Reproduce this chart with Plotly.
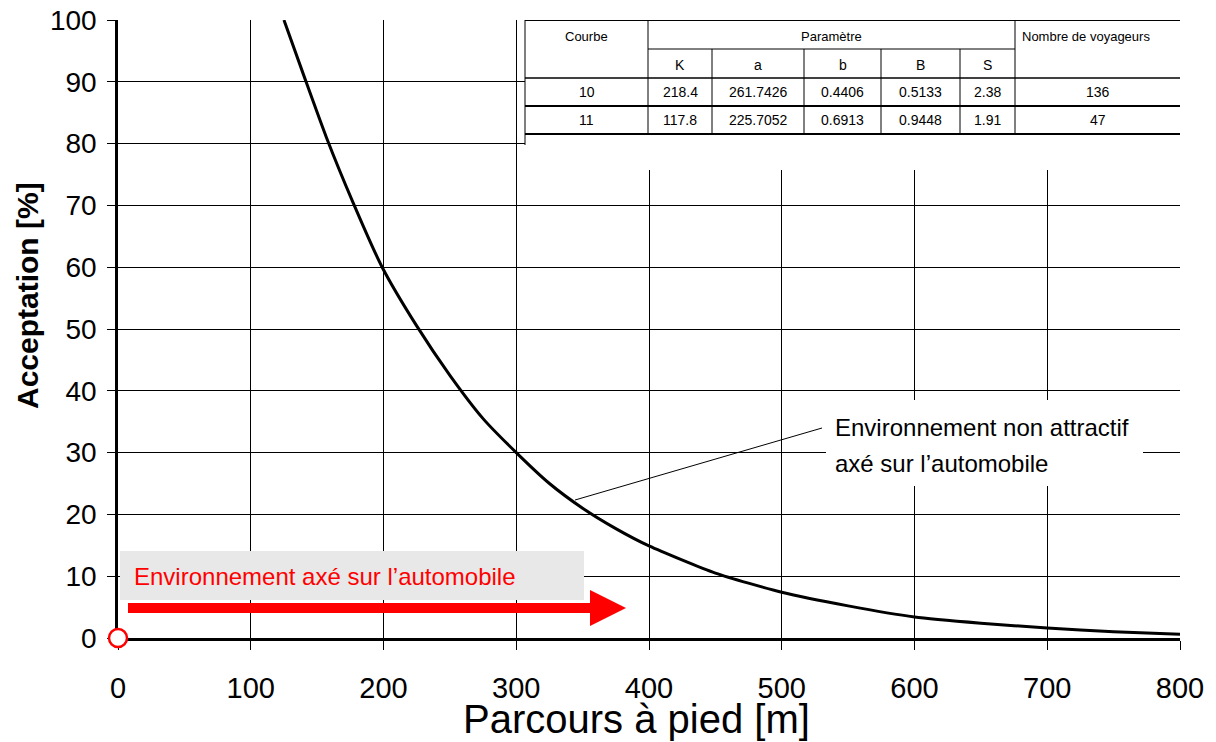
import plotly.graph_objects as go

# ---------------- data ----------------
distance_m = [125, 140, 157, 177, 199, 225, 250, 275, 300, 325, 350, 375, 400,
              450, 500, 550, 600, 650, 700, 750, 800]
acceptance_pct = [100, 91, 81, 70.5, 60, 50.5, 42.5, 35.5, 30, 25, 21, 17.7, 14.9,
                  10.5, 7.4, 5.2, 3.4, 2.4, 1.6, 1.0, 0.6]

x_ticks = [0, 100, 200, 300, 400, 500, 600, 700, 800]
y_ticks = [0, 10, 20, 30, 40, 50, 60, 70, 80, 90, 100]

table_header_top = ["Courbe", "Paramètre", "Nombre de voyageurs"]
table_param_names = ["K", "a", "b", "B", "S"]
table_rows = [
    ["10", "218.4", "261.7426", "0.4406", "0.5133", "2.38", "136"],
    ["11", "117.8", "225.7052", "0.6913", "0.9448", "1.91", "47"],
]

x_title = "Parcours à pied [m]"
y_title = "Acceptation [%]"
red_label = "Environnement axé sur l’automobile"
callout_lines = ["Environnement non attractif", "axé sur l’automobile"]

# ---------------- layout geometry (pixels) ----------------
L, R, T, B = 118, 1180, 20, 638
W, H = 1216, 742
XMAX, YMAX = 800, 100


def px2x(p):
    return (p - L) / (R - L) * XMAX


def px2y(p):
    return (B - p) / (B - T) * YMAX


FONT = "Liberation Sans, Arial, sans-serif"

fig = go.Figure()

fig.add_trace(go.Scatter(
    x=distance_m, y=acceptance_pct, mode="lines",
    line=dict(color="black", width=3, shape="spline", smoothing=0.6),
    hoverinfo="skip", showlegend=False,
))

# red open circle at the origin (white inside)
fig.add_trace(go.Scatter(
    x=[0], y=[0], mode="markers",
    marker=dict(symbol="circle", size=18, color="white",
                line=dict(width=2.5, color="#ff0000")),
    cliponaxis=False, showlegend=False, hoverinfo="skip",
))

shapes = []
annotations = []

# white area behind the table
shapes.append(dict(type="rect", xref="x", yref="y", layer="above",
                   x0=px2x(525), x1=px2x(1182), y0=px2y(170), y1=px2y(19),
                   fillcolor="white", line=dict(width=0)))

# table lines
cols = [525, 648, 712, 804, 881, 960, 1015, 1181]
rows = [20, 49, 78, 106, 134]


def hline(y, x0, x1, w=1.5):
    shapes.append(dict(type="line", xref="x", yref="y", layer="above",
                       x0=px2x(x0), x1=px2x(x1), y0=px2y(y), y1=px2y(y),
                       line=dict(color="black", width=w)))


def vline(x, y0, y1, w=1):
    shapes.append(dict(type="line", xref="x", yref="y", layer="above",
                       x0=px2x(x), x1=px2x(x), y0=px2y(y0), y1=px2y(y1),
                       line=dict(color="black", width=w)))


hline(rows[0], cols[0], cols[-1], 2)
hline(rows[1], cols[1], cols[6], 1)
hline(rows[2], cols[0], cols[-1], 1.5)
hline(rows[3], cols[0], cols[-1], 2)
hline(rows[4], cols[0], cols[-1], 2)
vline(cols[0], rows[0], 145, 1)
vline(cols[1], rows[0], rows[4])
vline(cols[6], rows[0], rows[4])
vline(cols[-1], rows[0], rows[4], 1.5)
for c in cols[2:6]:
    vline(c, rows[1], rows[4])


def txt(x, y, s, size=14, xanchor="center", color="black"):
    annotations.append(dict(x=px2x(x), y=px2y(y), xref="x", yref="y", text=s,
                            showarrow=False, xanchor=xanchor, yanchor="middle",
                            font=dict(family=FONT, size=size, color=color)))


txt((cols[0] + cols[1]) / 2, 36, table_header_top[0], 13)
txt((cols[1] + cols[6]) / 2, 36, table_header_top[1], 13)
txt(1086, 36, table_header_top[2], 13)
txt(1183, 38, "s", 12)
for i, name in enumerate(table_param_names):
    txt((cols[i + 1] + cols[i + 2]) / 2, 65, name, 14)
for r, row in enumerate(table_rows):
    yc = (rows[2 + r] + rows[3 + r]) / 2
    for i, v in enumerate(row):
        txt((cols[i] + cols[i + 1]) / 2, yc, v, 14)

# callout box + leader line
shapes.append(dict(type="rect", xref="x", yref="y", layer="above",
                   x0=px2x(826), x1=px2x(1143), y0=px2y(486), y1=px2y(400),
                   fillcolor="white", line=dict(width=0)))
shapes.append(dict(type="line", xref="x", yref="y", layer="above",
                   x0=px2x(575), y0=px2y(500), x1=px2x(822), y1=px2y(428),
                   line=dict(color="black", width=1)))
txt(833, 427, callout_lines[0], 24, xanchor="left")
txt(833, 463, callout_lines[1], 24, xanchor="left")

# grey label box + red arrow
shapes.append(dict(type="rect", xref="x", yref="y", layer="above",
                   x0=px2x(120), x1=px2x(584), y0=px2y(600), y1=px2y(551),
                   fillcolor="#e8e8e8", line=dict(width=0)))
txt(132, 576, red_label, 24, xanchor="left", color="#ff0000")

ay, sh, hh = 608, 5, 18
path = ("M {} {} L {} {} L {} {} L {} {} L {} {} L {} {} L {} {} Z".format(
    px2x(128), px2y(ay - sh), px2x(590), px2y(ay - sh), px2x(590), px2y(ay - hh),
    px2x(626), px2y(ay), px2x(590), px2y(ay + hh), px2x(590), px2y(ay + sh),
    px2x(128), px2y(ay + sh)))
shapes.append(dict(type="path", xref="x", yref="y", layer="above", path=path,
                   fillcolor="#ff0000", line=dict(width=0)))

# axis titles
annotations.append(dict(x=(636 - L) / (R - L), y=(B - 719) / (B - T), xref="paper", yref="paper",
                        text=x_title, showarrow=False, xanchor="center", yanchor="middle",
                        font=dict(family=FONT, size=40, color="black")))
annotations.append(dict(x=(27 - L) / (R - L), y=(B - 296) / (B - T), xref="paper", yref="paper",
                        text="<b>" + y_title + "</b>", showarrow=False, textangle=-90,
                        xanchor="center", yanchor="middle",
                        font=dict(family=FONT, size=30, color="black")))

fig.update_layout(
    width=W, height=H,
    margin=dict(l=L, r=W - R, t=T, b=H - B, pad=0, autoexpand=False),
    paper_bgcolor="white", plot_bgcolor="white",
    shapes=shapes, annotations=annotations,
    font=dict(family=FONT, color="black"),
    xaxis=dict(range=[0, XMAX], tickvals=x_ticks, ticktext=[str(v) for v in x_ticks],
               showgrid=True, gridcolor="black", gridwidth=1,
               showline=True, linecolor="black", linewidth=2.5,
               ticks="outside", ticklen=9, tickcolor="black", tickwidth=1,
               ticklabelstandoff=13, automargin=False, layer="below traces",
               tickfont=dict(family=FONT, size=29, color="black"),
               zeroline=False, fixedrange=True),
    yaxis=dict(range=[0, YMAX], tickvals=y_ticks, ticktext=[str(v) for v in y_ticks],
               showgrid=True, gridcolor="black", gridwidth=1,
               showline=True, linecolor="black", linewidth=2.5,
               ticks="outside", ticklen=8, tickcolor="black", tickwidth=1,
               ticklabelstandoff=5, automargin=False, layer="below traces",
               tickfont=dict(family=FONT, size=28, color="black"),
               zeroline=False, fixedrange=True),
)

fig.write_html("out.html", config={"displayModeBar": False})
